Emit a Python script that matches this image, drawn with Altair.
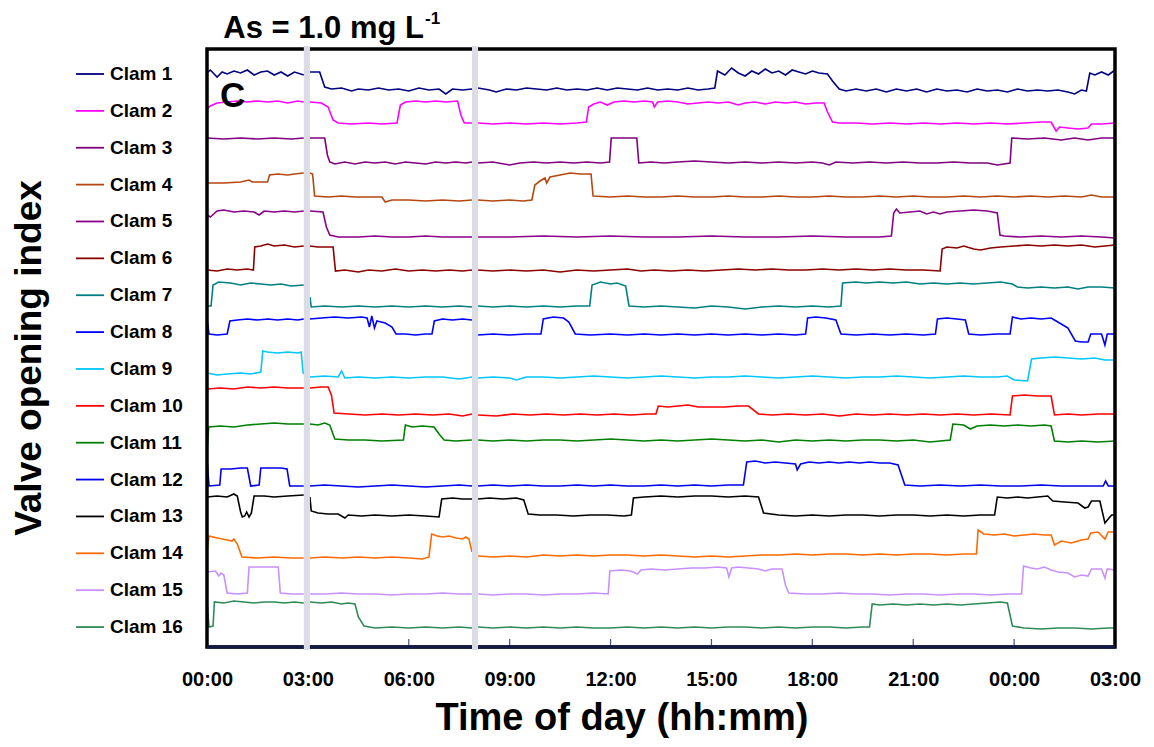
import json
import altair as alt
import pandas as pd

# ---------------- data ----------------
clam_names = [f"Clam {i}" for i in range(1, 17)]
clam_colors = ["#000080", "#ff00ff", "#800080", "#b5470f", "#8b008b", "#8b0000",
               "#008080", "#0000ff", "#00c8ff", "#ff0000", "#008000", "#0000ee",
               "#000000", "#ff6a00", "#c891ff", "#2e8b57"]

tick_hours = [0, 3, 6, 9, 12, 15, 18, 21, 24, 27]
tick_labels = ["00:00", "03:00", "06:00", "09:00", "12:00", "15:00", "18:00",
               "21:00", "00:00", "03:00"]
gap_start = [2.88, 7.88]
gap_end = [3.06, 8.06]

# (hour, valve opening index) pairs, stacked traces
clam1 = [(0, 574), (0.1, 577), (0.3, 570), (0.45, 575), (0.6, 573), (0.8, 576), (1.0, 574), (1.2, 577),
         (1.4, 572), (1.6, 575), (1.8, 576), (2.0, 572), (2.2, 575), (2.4, 571), (2.6, 575), (2.88, 572),
         (3.06, 575), (3.35, 575), (3.5, 560), (3.7, 558), (4.0, 559), (4.3, 556), (4.5, 558), (4.8, 557),
         (5.1, 559), (5.4, 557), (5.7, 558), (6.0, 556), (6.3, 559), (6.6, 557), (6.9, 558), (7.1, 553),
         (7.3, 558), (7.6, 557), (7.88, 558),
         (8.06, 559), (8.4, 557), (8.6, 555), (8.9, 558), (9.2, 557), (9.5, 559), (9.8, 558), (10.1, 557),
         (10.4, 559), (10.7, 557), (11.0, 558), (11.3, 557), (11.6, 559), (11.9, 557), (12.2, 559),
         (12.5, 558), (12.8, 557), (13.1, 559), (13.4, 557), (13.7, 558), (14.0, 557), (14.3, 559),
         (14.6, 557), (14.9, 558), (15.1, 559), (15.18, 576), (15.4, 572), (15.6, 579), (15.8, 574),
         (16.0, 571), (16.2, 576), (16.4, 573), (16.6, 578), (16.8, 574), (17.0, 576), (17.2, 572),
         (17.4, 577), (17.6, 575), (17.8, 573), (18.0, 576), (18.2, 574), (18.45, 573), (18.6, 566),
         (18.8, 558), (19.0, 556), (19.3, 558), (19.6, 556), (19.9, 558), (20.2, 555), (20.5, 558),
         (20.8, 556), (21.1, 558), (21.4, 555), (21.7, 558), (22.0, 556), (22.3, 557), (22.6, 555),
         (22.9, 558), (23.2, 556), (23.5, 557), (23.8, 555), (24.1, 558), (24.4, 556), (24.7, 557),
         (25.0, 556), (25.3, 557), (25.6, 555), (25.8, 553), (26.0, 557), (26.15, 556), (26.25, 574),
         (26.4, 572), (26.6, 575), (26.8, 572), (27.0, 577)]
clam2 = [(0, 538), (0.1, 541), (0.3, 544), (0.6, 545), (0.9, 546), (1.2, 545), (1.5, 546), (1.8, 545),
         (2.1, 546), (2.4, 544), (2.7, 546), (2.88, 545),
         (3.06, 545), (3.4, 544), (3.6, 540), (3.75, 527), (3.9, 524), (4.3, 523), (4.8, 524), (5.2, 523),
         (5.65, 524), (5.75, 542), (5.9, 545), (6.2, 546), (6.5, 545), (6.8, 546), (7.1, 545), (7.45, 546),
         (7.55, 532), (7.65, 524), (7.88, 524),
         (8.06, 524), (8.5, 523), (9.0, 524), (9.5, 523), (10.0, 524), (10.5, 523), (11.0, 524),
         (11.28, 525), (11.35, 540), (11.5, 543), (11.7, 545), (11.9, 542), (12.1, 545), (12.4, 546),
         (12.7, 545), (13.0, 546), (13.25, 545), (13.3, 540), (13.4, 545), (13.7, 546), (14.0, 545),
         (14.3, 543), (14.6, 544), (14.9, 545), (15.2, 544), (15.5, 545), (15.8, 542), (16.0, 544),
         (16.3, 545), (16.6, 543), (16.9, 545), (17.2, 544), (17.5, 545), (17.8, 543), (18.1, 544),
         (18.35, 544), (18.45, 535), (18.6, 525), (18.8, 524), (19.3, 524), (19.8, 523), (20.3, 524),
         (20.8, 523), (21.3, 524), (21.8, 523), (22.3, 524), (22.8, 523), (23.3, 524), (23.8, 523),
         (24.3, 524), (24.8, 525), (25.1, 525), (25.25, 516), (25.35, 520), (25.6, 519), (25.9, 518),
         (26.2, 519), (26.3, 523), (26.6, 523), (27.0, 524)]
clam3 = [(0, 509), (0.5, 508), (1.0, 509), (1.5, 508), (2.0, 509), (2.5, 508), (2.88, 509),
         (3.06, 509), (3.5, 509), (3.58, 492), (3.65, 485), (3.8, 483), (4.1, 485), (4.4, 483), (4.7, 485),
         (5.0, 484), (5.3, 485), (5.6, 483), (5.9, 485), (6.2, 484), (6.5, 483), (6.8, 485), (7.1, 484),
         (7.4, 485), (7.7, 484), (7.88, 485),
         (8.06, 484), (8.5, 485), (9.0, 482), (9.3, 484), (9.7, 485), (10.1, 484), (10.5, 485),
         (10.9, 484), (11.3, 485), (11.7, 484), (11.97, 485), (12.02, 509), (12.4, 509), (12.78, 509),
         (12.84, 484), (13.2, 485), (13.6, 484), (14.0, 485), (14.5, 486), (15.0, 485), (15.5, 484),
         (16.0, 485), (16.5, 484), (17.0, 485), (17.5, 484), (18.0, 485), (18.3, 484), (18.5, 482),
         (18.7, 485), (19.2, 484), (19.7, 485), (20.2, 484), (20.7, 485), (21.2, 484), (21.7, 484),
         (22.2, 485), (22.7, 484), (23.2, 484), (23.5, 482), (23.88, 484), (23.93, 509), (24.4, 508),
         (24.9, 509), (25.4, 507), (25.8, 509), (26.2, 507), (26.6, 509), (27.0, 509)]
clam4 = [(0, 464), (0.5, 464), (1.0, 465), (1.25, 467), (1.35, 465), (1.8, 465), (1.86, 472), (2.1, 473),
         (2.4, 472), (2.6, 473), (2.88, 474),
         (3.06, 474), (3.14, 473), (3.2, 451), (3.6, 450), (4.0, 451), (4.4, 450), (4.8, 450), (5.2, 450),
         (5.3, 445), (5.5, 447), (6.0, 447), (6.5, 446), (7.0, 447), (7.5, 446), (7.88, 447),
         (8.06, 447), (8.5, 446), (9.0, 447), (9.4, 446), (9.66, 447), (9.75, 462), (9.9, 466),
         (10.05, 469), (10.1, 464), (10.2, 470), (10.5, 472), (10.8, 474), (11.1, 473), (11.42, 473),
         (11.48, 451), (12.0, 450), (12.5, 451), (13.0, 450), (13.5, 450), (14.0, 451), (14.5, 450),
         (15.0, 450), (15.5, 451), (16.0, 450), (16.5, 450), (17.0, 451), (17.5, 450), (18.0, 450),
         (18.5, 451), (19.0, 450), (19.5, 450), (20.0, 451), (20.5, 450), (21.0, 451), (21.5, 450),
         (22.0, 450), (22.5, 451), (23.0, 450), (23.5, 451), (24.0, 450), (24.5, 451), (25.0, 450),
         (25.5, 451), (26.0, 450), (26.3, 452), (26.6, 450), (27.0, 450)]
clam5 = [(0, 432), (0.1, 430), (0.3, 436), (0.5, 437), (0.8, 435), (1.1, 436), (1.4, 435), (1.55, 432),
         (1.7, 436), (2.0, 435), (2.3, 436), (2.6, 435), (2.88, 436),
         (3.06, 436), (3.45, 435), (3.55, 420), (3.65, 412), (3.9, 410), (4.5, 410), (5.0, 411),
         (5.5, 410), (6.0, 410), (6.5, 411), (7.0, 410), (7.5, 410), (7.88, 410),
         (8.06, 410), (9.0, 410), (10.0, 411), (11.0, 410), (12.0, 411), (13.0, 410), (14.0, 410),
         (15.0, 411), (16.0, 410), (17.0, 410), (18.0, 411), (19.0, 410), (20.0, 410), (20.35, 411),
         (20.42, 434), (20.5, 438), (20.6, 434), (20.9, 435), (21.2, 436), (21.4, 433), (21.6, 435),
         (21.8, 433), (22.0, 435), (22.4, 436), (22.8, 437), (23.2, 436), (23.5, 434), (23.58, 412),
         (23.7, 411), (24.2, 410), (24.8, 411), (25.4, 410), (26.0, 411), (26.6, 410), (27.0, 409)]
clam6 = [(0, 377), (0.3, 376), (0.6, 378), (0.9, 377), (1.2, 378), (1.38, 377), (1.42, 400), (1.6, 401),
         (1.8, 403), (2.0, 401), (2.3, 402), (2.6, 400), (2.88, 401),
         (3.06, 401), (3.3, 400), (3.75, 400), (3.82, 376), (4.1, 377), (4.5, 375), (4.8, 377),
         (5.2, 376), (5.6, 378), (6.0, 376), (6.4, 377), (6.8, 376), (7.2, 377), (7.6, 376), (7.88, 377),
         (8.06, 377), (8.5, 376), (9.0, 377), (9.5, 376), (10.0, 377), (10.5, 375), (11.0, 377),
         (11.5, 376), (12.0, 377), (12.5, 378), (12.9, 376), (13.3, 377), (13.8, 376), (14.3, 377),
         (14.8, 376), (15.3, 377), (15.8, 378), (16.3, 377), (16.8, 378), (17.3, 377), (17.8, 377),
         (18.3, 378), (18.8, 377), (19.3, 378), (19.8, 377), (20.3, 378), (20.8, 377), (21.3, 377),
         (21.8, 376), (21.86, 398), (22.0, 400), (22.3, 399), (22.5, 401), (22.8, 398), (23.0, 397),
         (23.3, 399), (23.6, 400), (24.0, 401), (24.4, 402), (24.8, 401), (25.2, 402), (25.6, 401),
         (26.0, 402), (26.4, 400), (26.7, 401), (27.0, 402)]
clam7 = [(0, 341), (0.12, 341), (0.18, 362), (0.35, 365), (0.7, 364), (1.0, 362), (1.3, 364), (1.6, 363),
         (1.9, 362), (2.2, 363), (2.5, 361), (2.88, 362),
         (3.06, 350), (3.1, 340), (3.5, 341), (4.0, 340), (4.5, 341), (5.0, 340), (5.5, 341), (6.0, 340),
         (6.5, 341), (7.0, 340), (7.5, 341), (7.88, 340),
         (8.06, 341), (8.5, 340), (9.0, 341), (9.5, 340), (10.0, 341), (10.5, 340), (11.0, 341),
         (11.38, 341), (11.45, 362), (11.7, 365), (12.0, 363), (12.2, 364), (12.45, 361), (12.55, 341),
         (13.0, 340), (13.5, 341), (14.0, 340), (14.5, 339), (15.0, 341), (15.5, 340), (16.0, 338),
         (16.5, 340), (17.0, 341), (17.5, 340), (18.0, 341), (18.5, 340), (18.85, 341), (18.9, 364),
         (19.3, 365), (19.6, 364), (20.0, 365), (20.4, 364), (20.8, 365), (21.2, 363), (21.6, 364),
         (22.0, 363), (22.4, 364), (22.8, 363), (23.2, 364), (23.6, 365), (23.95, 363), (24.1, 360),
         (24.4, 359), (24.8, 360), (25.2, 359), (25.6, 360), (25.9, 358), (26.2, 360), (26.6, 360),
         (27.0, 359)]
clam8 = [(0, 328), (0.06, 313), (0.3, 312), (0.6, 313), (0.68, 326), (0.9, 327), (1.2, 328), (1.5, 327),
         (1.8, 328), (2.1, 327), (2.4, 328), (2.7, 327), (2.88, 328),
         (3.06, 328), (3.4, 329), (3.8, 330), (4.2, 329), (4.6, 330), (4.76, 329), (4.83, 320),
         (4.9, 331), (4.98, 319), (5.05, 326), (5.3, 324), (5.5, 320), (5.62, 313), (5.9, 313),
         (6.2, 312), (6.5, 313), (6.69, 313), (6.76, 326), (7.0, 328), (7.3, 327), (7.6, 328), (7.88, 327),
         (8.06, 312), (8.5, 313), (9.0, 312), (9.5, 313), (9.93, 313), (10.0, 328), (10.3, 330),
         (10.6, 329), (10.76, 325), (10.95, 313), (11.4, 312), (12.0, 313), (12.5, 312), (13.0, 313),
         (13.5, 312), (14.0, 313), (14.5, 312), (15.0, 313), (15.5, 312), (16.0, 313), (16.5, 312),
         (17.0, 313), (17.5, 312), (17.8, 313), (17.86, 329), (18.1, 330), (18.4, 329), (18.7, 327),
         (18.85, 313), (19.3, 312), (19.8, 313), (20.3, 312), (20.8, 313), (21.3, 312), (21.66, 313),
         (21.72, 328), (22.0, 329), (22.3, 328), (22.55, 327), (22.65, 313), (23.0, 312), (23.5, 313),
         (23.88, 313), (23.95, 330), (24.2, 328), (24.5, 329), (24.8, 328), (25.1, 329), (25.2, 327),
         (25.5, 321), (25.6, 319), (25.82, 306), (26.0, 305), (26.2, 305), (26.28, 313), (26.6, 313),
         (26.7, 302), (26.77, 313), (27.0, 313)]
clam9 = [(0, 274), (0.3, 272), (0.6, 273), (1.0, 274), (1.3, 273), (1.6, 275), (1.66, 296), (1.8, 295),
         (2.1, 294), (2.4, 295), (2.7, 294), (2.8, 295), (2.86, 274), (2.88, 273),
         (3.06, 270), (3.5, 271), (3.9, 270), (4.0, 276), (4.1, 269), (4.5, 270), (5.0, 269), (5.5, 270),
         (6.0, 269), (6.5, 270), (7.0, 270), (7.5, 268), (7.88, 270),
         (8.06, 269), (8.5, 270), (9.0, 269), (9.2, 267), (9.5, 270), (10.0, 270), (10.5, 269),
         (11.0, 270), (11.5, 271), (12.0, 270), (12.5, 269), (13.0, 270), (13.5, 271), (14.0, 270),
         (14.5, 269), (15.0, 270), (15.5, 270), (16.0, 271), (16.5, 270), (17.0, 269), (17.5, 270),
         (18.0, 271), (18.5, 270), (19.0, 269), (19.5, 270), (20.0, 270), (20.5, 271), (21.0, 270),
         (21.5, 269), (22.0, 270), (22.5, 271), (23.0, 270), (23.5, 270), (23.8, 271), (24.0, 267),
         (24.4, 266), (24.52, 288), (24.8, 289), (25.2, 290), (25.6, 289), (26.0, 288), (26.4, 289),
         (26.7, 287), (27.0, 287)]
clam10 = [(0, 258), (0.4, 259), (0.8, 258), (1.2, 260), (1.6, 259), (2.0, 260), (2.4, 259), (2.88, 259),
          (3.06, 259), (3.4, 260), (3.6, 260), (3.7, 252), (3.78, 234), (4.2, 233), (4.7, 232),
          (5.2, 233), (5.7, 232), (6.2, 233), (6.7, 232), (7.2, 233), (7.6, 231), (7.88, 233),
          (8.06, 232), (8.6, 231), (9.1, 233), (9.6, 232), (10.1, 233), (10.6, 232), (11.1, 233),
          (11.6, 232), (12.1, 233), (12.6, 232), (13.1, 233), (13.35, 233), (13.42, 241), (13.7, 240),
          (14.0, 241), (14.3, 242), (14.6, 240), (15.0, 240), (15.4, 240), (15.8, 241), (16.1, 241),
          (16.4, 233), (16.8, 232), (17.3, 233), (17.8, 232), (18.3, 233), (18.8, 231), (19.3, 233),
          (19.8, 232), (20.3, 233), (20.8, 232), (21.3, 233), (21.8, 232), (22.3, 233), (22.8, 232),
          (23.3, 233), (23.88, 232), (23.95, 251), (24.3, 252), (24.7, 251), (25.1, 251), (25.2, 232),
          (25.6, 233), (26.0, 232), (26.5, 233), (27.0, 233)]
clam11 = [(0, 196), (0.05, 220), (0.4, 221), (0.8, 220), (1.2, 222), (1.6, 223), (2.0, 224), (2.4, 223),
          (2.88, 223),
          (3.06, 223), (3.3, 222), (3.5, 224), (3.65, 222), (3.8, 208), (4.2, 207), (4.7, 207),
          (5.2, 206), (5.84, 207), (5.9, 222), (6.1, 220), (6.4, 221), (6.75, 220), (6.9, 213),
          (7.05, 207), (7.4, 206), (7.88, 207),
          (8.06, 207), (8.5, 206), (9.0, 207), (9.5, 206), (10.0, 207), (10.5, 207), (11.0, 206),
          (11.5, 207), (12.0, 208), (12.5, 207), (13.0, 206), (13.5, 207), (14.0, 206), (14.5, 207),
          (15.0, 208), (15.5, 207), (16.0, 206), (16.5, 207), (17.0, 205), (17.5, 207), (18.0, 206),
          (18.5, 207), (19.0, 206), (19.5, 207), (20.0, 207), (20.5, 206), (21.0, 207), (21.5, 205),
          (22.1, 207), (22.18, 223), (22.5, 222), (22.7, 218), (22.9, 221), (23.3, 222), (23.7, 221),
          (24.1, 222), (24.5, 221), (24.9, 222), (25.1, 221), (25.2, 206), (25.6, 205), (26.0, 206),
          (26.5, 205), (27.0, 206)]
clam12 = [(0, 188), (0.06, 161), (0.38, 162), (0.42, 178), (0.7, 178), (1.0, 179), (1.2, 179),
          (1.3, 161), (1.55, 162), (1.6, 179), (1.9, 179), (2.2, 179), (2.38, 178), (2.46, 161),
          (2.88, 161),
          (3.06, 161), (3.5, 162), (4.0, 161), (4.5, 160), (5.0, 161), (5.5, 162), (6.0, 161),
          (6.5, 160), (7.0, 161), (7.5, 162), (7.88, 161),
          (8.06, 161), (8.5, 162), (9.0, 161), (9.5, 162), (10.0, 161), (10.5, 161), (11.0, 162),
          (11.5, 161), (12.0, 162), (12.5, 161), (13.0, 161), (13.5, 162), (14.0, 161), (14.5, 162),
          (15.0, 161), (15.5, 162), (15.95, 162), (16.05, 185), (16.3, 186), (16.6, 184), (16.9, 185),
          (17.2, 184), (17.5, 183), (17.55, 177), (17.65, 183), (17.9, 185), (18.2, 184), (18.5, 185),
          (18.8, 184), (19.1, 185), (19.4, 184), (19.7, 185), (20.0, 184), (20.3, 184), (20.55, 182),
          (20.75, 162), (21.2, 161), (21.8, 162), (22.4, 161), (23.0, 162), (23.6, 161), (24.2, 161),
          (24.8, 162), (25.4, 161), (26.0, 161), (26.65, 161), (26.72, 166), (26.8, 161), (27.0, 161)]
clam13 = [(0, 150), (0.3, 151), (0.6, 150), (0.8, 153), (0.9, 151), (1.0, 135), (1.05, 130), (1.12, 131),
          (1.18, 135), (1.25, 130), (1.32, 134), (1.4, 151), (1.7, 151), (2.0, 150), (2.4, 151),
          (2.88, 152),
          (3.06, 150), (3.1, 136), (3.3, 134), (3.6, 133), (3.9, 133), (4.1, 129), (4.2, 132),
          (4.6, 131), (5.0, 132), (5.5, 131), (6.0, 132), (6.5, 131), (6.9, 130), (6.98, 148),
          (7.3, 149), (7.6, 148), (7.88, 148),
          (8.06, 148), (8.4, 149), (8.8, 148), (9.2, 149), (9.42, 147), (9.55, 133), (9.9, 132),
          (10.4, 132), (10.9, 131), (11.4, 132), (11.9, 132), (12.4, 131), (12.62, 132), (12.68, 149),
          (13.0, 150), (13.5, 151), (14.0, 150), (14.5, 151), (15.0, 151), (15.5, 150), (16.0, 151),
          (16.4, 150), (16.55, 134), (17.0, 132), (17.5, 131), (18.0, 132), (18.5, 131), (19.0, 132),
          (19.5, 132), (20.0, 131), (20.5, 132), (21.0, 132), (21.5, 131), (22.0, 132), (22.5, 131),
          (23.0, 132), (23.42, 132), (23.5, 150), (23.8, 149), (24.1, 150), (24.4, 149), (24.7, 150),
          (25.0, 151), (25.15, 146), (25.5, 145), (25.9, 144), (26.1, 139), (26.2, 140), (26.3, 146),
          (26.55, 146), (26.7, 124), (26.8, 128), (26.9, 132), (27.0, 132)]
clam14 = [(0, 95), (0.06, 111), (0.3, 109), (0.6, 107), (0.75, 106), (0.8, 108), (0.9, 103), (1.04, 90),
          (1.5, 89), (2.0, 90), (2.5, 89), (2.88, 89),
          (3.06, 89), (3.5, 90), (4.0, 89), (4.5, 90), (5.0, 89), (5.5, 90), (6.0, 89), (6.4, 88),
          (6.6, 90), (6.68, 113), (6.85, 111), (7.0, 110), (7.2, 111), (7.4, 109), (7.6, 108),
          (7.7, 110), (7.79, 108), (7.88, 95),
          (8.06, 91), (8.5, 90), (9.0, 91), (9.5, 90), (10.0, 92), (10.5, 91), (11.0, 92), (11.5, 91),
          (12.0, 92), (12.5, 92), (13.0, 91), (13.5, 92), (14.0, 91), (14.5, 90), (15.0, 91), (15.5, 90),
          (16.0, 91), (16.5, 92), (17.0, 92), (17.5, 93), (18.0, 92), (18.5, 93), (19.0, 93), (19.5, 92),
          (20.0, 93), (20.5, 92), (21.0, 93), (21.5, 93), (22.0, 92), (22.5, 93), (22.88, 93),
          (22.93, 117), (23.1, 113), (23.4, 112), (23.7, 113), (24.0, 111), (24.3, 112), (24.6, 113),
          (24.9, 112), (25.1, 112), (25.2, 102), (25.4, 106), (25.7, 104), (26.0, 107), (26.2, 108),
          (26.28, 114), (26.5, 115), (26.7, 108), (26.8, 115), (27.0, 115)]
clam15 = [(0, 75), (0.25, 76), (0.35, 71), (0.42, 74), (0.5, 72), (0.6, 54), (0.9, 53), (1.2, 54),
          (1.25, 80), (1.5, 80), (1.8, 80), (2.12, 80), (2.18, 54), (2.5, 53), (2.88, 53),
          (3.06, 53), (3.5, 53), (4.0, 54), (4.5, 53), (5.0, 53), (5.5, 52), (6.0, 53), (6.5, 53),
          (7.0, 54), (7.5, 53), (7.88, 53),
          (8.06, 53), (8.5, 52), (9.0, 53), (9.5, 53), (10.0, 52), (10.5, 53), (11.0, 53), (11.5, 54),
          (11.93, 53), (11.98, 76), (12.3, 77), (12.6, 76), (12.8, 73), (12.9, 77), (13.2, 78),
          (13.6, 77), (14.0, 78), (14.4, 79), (14.8, 79), (15.2, 80), (15.45, 79), (15.52, 70),
          (15.6, 79), (15.8, 80), (16.1, 79), (16.4, 78), (16.6, 76), (16.8, 78), (17.1, 78), (17.2, 62),
          (17.3, 54), (17.8, 53), (18.3, 53), (18.8, 54), (19.3, 53), (19.8, 53), (20.3, 52), (20.8, 53),
          (21.3, 53), (21.8, 52), (22.3, 53), (22.8, 53), (23.3, 52), (23.8, 53), (24.22, 53),
          (24.28, 81), (24.5, 79), (24.7, 78), (24.9, 80), (25.1, 77), (25.3, 75), (25.6, 74),
          (25.8, 70), (26.0, 72), (26.2, 71), (26.3, 78), (26.6, 78), (26.7, 69), (26.77, 78), (27.0, 77)]
clam16 = [(0, 45), (0.06, 20), (0.18, 21), (0.22, 45), (0.5, 44), (0.8, 46), (1.1, 45), (1.4, 44),
          (1.7, 45), (2.0, 45), (2.3, 44), (2.6, 45), (2.88, 44),
          (3.06, 45), (3.4, 44), (3.7, 45), (4.0, 43), (4.2, 44), (4.4, 43), (4.5, 30), (4.67, 21),
          (5.0, 19), (5.5, 20), (6.0, 19), (6.5, 20), (7.0, 19), (7.5, 20), (7.88, 19),
          (8.06, 20), (8.5, 19), (9.0, 20), (9.5, 19), (10.0, 20), (10.5, 19), (11.0, 20), (11.5, 19),
          (12.0, 19), (12.5, 20), (13.0, 19), (13.5, 20), (14.0, 19), (14.5, 20), (15.0, 19), (15.5, 20),
          (16.0, 20), (16.5, 19), (17.0, 20), (17.5, 19), (18.0, 20), (18.5, 20), (19.0, 19), (19.5, 20),
          (19.7, 20), (19.78, 43), (20.0, 42), (20.4, 43), (20.8, 42), (21.2, 43), (21.6, 42), (22.0, 43),
          (22.4, 42), (22.8, 43), (23.2, 44), (23.6, 45), (23.8, 44), (23.95, 21), (24.3, 19),
          (24.8, 18), (25.3, 19), (25.8, 19), (26.3, 18), (26.8, 19), (27.0, 19)]

traces = [clam1, clam2, clam3, clam4, clam5, clam6, clam7, clam8,
          clam9, clam10, clam11, clam12, clam13, clam14, clam15, clam16]

# ---------------- tables ----------------
rows = []
for name, pts in zip(clam_names, traces):
    for t, v in pts:
        seg = sum(1 for g in gap_start if t > g + 0.05)
        rows.append({"t": t, "v": v, "clam": name, "key": f"{name}-{seg}"})
df = pd.DataFrame(rows)

bands = pd.DataFrame({"start": gap_start, "end": gap_end})
ticks = pd.DataFrame({"t": tick_hours})
legend_df = pd.DataFrame({"clam": clam_names,
                          "ly": [25 + 36.87 * i for i in range(len(clam_names))]})

FONT = "Liberation Sans"
W, H = 908, 598

color_scale = alt.Scale(domain=clam_names, range=clam_colors)
x_scale = alt.Scale(domain=[0, 27], nice=False, zero=False)
y_scale = alt.Scale(domain=[0, 598], nice=False, zero=False)
label_expr = json.dumps(tick_labels) + "[round(datum.value / 3)]"
x_axis = alt.Axis(values=tick_hours, labelExpr=label_expr, title=None, domain=False,
                  ticks=False, grid=False, labelFont=FONT, labelFontWeight="bold",
                  labelFontSize=20, labelColor="#000", labelPadding=22, labelFlush=False)

lines = alt.Chart(df).mark_line(strokeWidth=1.6).encode(
    x=alt.X("t:Q", scale=x_scale, axis=x_axis),
    y=alt.Y("v:Q", scale=y_scale, axis=None),
    color=alt.Color("clam:N", scale=color_scale, legend=None),
    detail="key:N",
    order=alt.Order("t:Q"),
)

tick_marks = alt.Chart(ticks).mark_rule(color="#44508a", strokeWidth=1.2).encode(
    x=alt.X("t:Q", scale=x_scale, axis=x_axis),
    y=alt.value(H - 8), y2=alt.value(H),
)

# plot frame drawn as rules so the grey gap bands can sit on top of it
frame = alt.Chart(alt.Data(values=[{}])).mark_rect(
    fill=None, stroke="#000", strokeWidth=3.5
).encode(x=alt.value(0), x2=alt.value(W), y=alt.value(0), y2=alt.value(H))
bottom_edge = alt.Chart(alt.Data(values=[{}])).mark_rule(
    color="#141a46", strokeWidth=3.5
).encode(x=alt.value(0), x2=alt.value(W), y=alt.value(H))

band_marks = alt.Chart(bands).mark_rect(color="#dcdce4").encode(
    x=alt.X("start:Q", scale=x_scale, axis=x_axis), x2="end:Q",
    y=alt.value(-3), y2=alt.value(H + 3),
)

leg_lines = alt.Chart(legend_df).mark_rule(strokeWidth=1.8).encode(
    x=alt.value(-131), x2=alt.value(-103),
    y=alt.Y("ly:Q", scale=None, axis=None),
    color=alt.Color("clam:N", scale=color_scale, legend=None),
)
leg_text = alt.Chart(legend_df).mark_text(
    align="left", baseline="middle", font=FONT, fontWeight="bold", fontSize=19, color="#000"
).encode(x=alt.value(-97), y=alt.Y("ly:Q", scale=None, axis=None), text="clam:N")

one = alt.Data(values=[{}])


def label(text, x, y, size, align="left", baseline="alphabetic", angle=0):
    return alt.Chart(one).mark_text(
        text=text, align=align, baseline=baseline, font=FONT, fontWeight="bold",
        fontSize=size, color="#000", angle=angle
    ).encode(x=alt.value(x), y=alt.value(y))


title_main = label("As = 1.0 mg L", 217, -11, 31, align="right")
title_sup = label("-1", 218, -25, 17)
panel_c = label("C", 13, 58, 35)
x_title = label("Time of day (hh:mm)", 415, 681, 38, align="center")
y_title = label("Valve opening index", -177, 309, 37, align="center", baseline="middle", angle=270)

chart = alt.layer(
    lines, tick_marks, frame, bottom_edge, band_marks, leg_lines, leg_text,
    title_main, title_sup, panel_c, x_title, y_title,
).properties(
    width=W, height=H,
    padding={"left": 199, "top": 41, "right": 31, "bottom": 92},
    autosize=alt.AutoSizeParams(type="none"),
).configure_view(
    stroke=None
)

chart.save("out.html", embed_options={"renderer": "svg", "actions": False})
